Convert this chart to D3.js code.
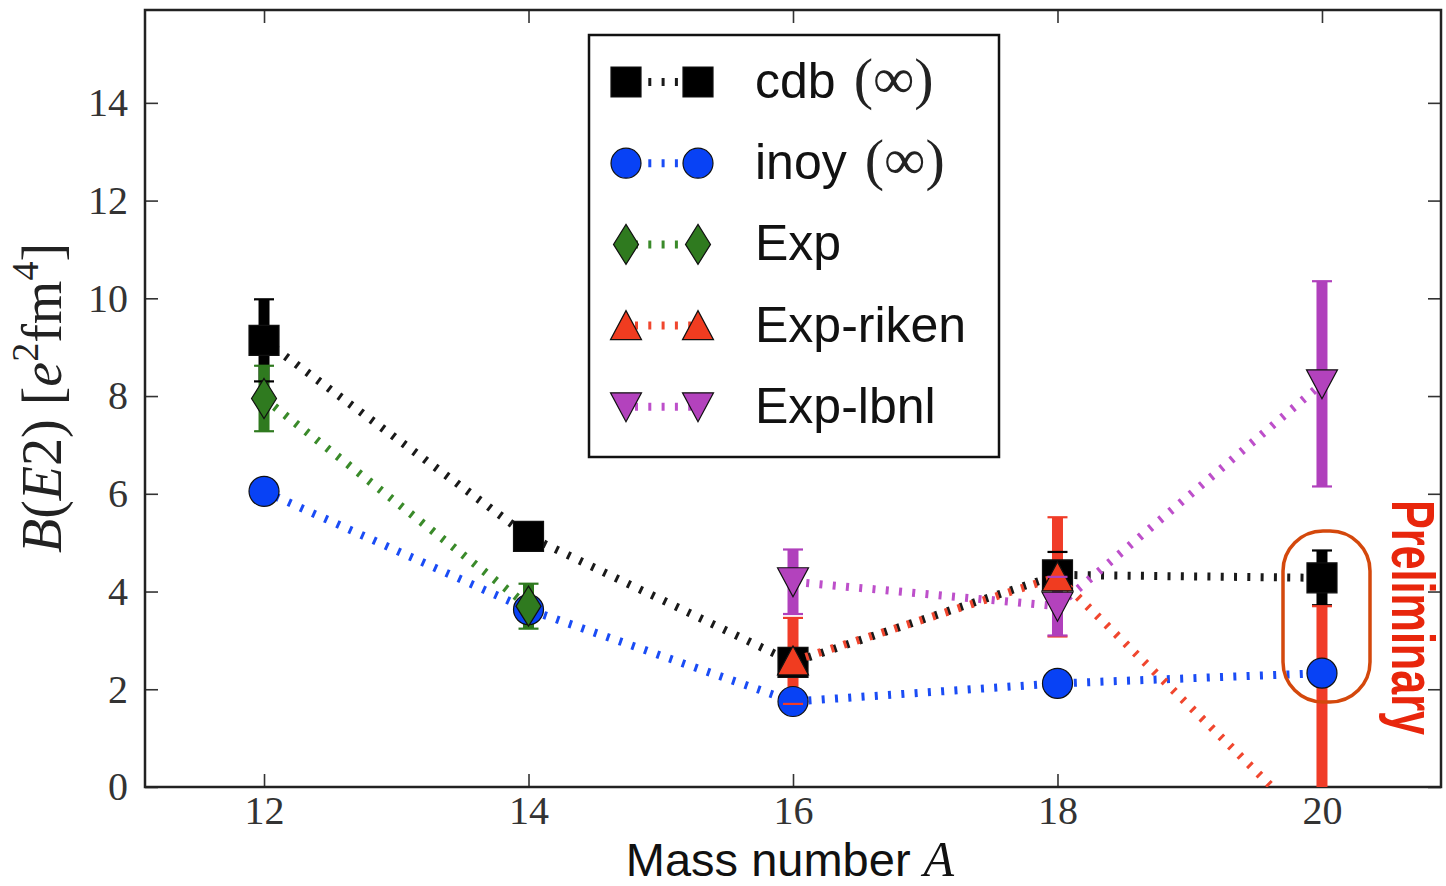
<!DOCTYPE html>
<html>
<head>
<meta charset="utf-8">
<script src="https://d3js.org/d3.v7.min.js"></script>
<style>
  body { margin: 0; background: #fff; }
</style>
</head>
<body>
<div class="canvas"></div>
<script>
const width = 1446
const height = 886

const massNumbers = [12, 14, 16, 18, 20]
const xTicks = [12, 14, 16, 18, 20]
const yTicks = [0, 2, 4, 6, 8, 10, 12, 14]

const cdbValues = [9.14, 5.13, 2.55, 4.34, 4.28]
const cdbErrors = [0.84, 0, 0, 0.47, 0.56]
const inoyValues = [6.05, 3.63, 1.75, 2.12, 2.33]
const expMass = [12, 14]
const expValues = [7.95, 3.7]
const expErrors = [0.67, 0.46]
const rikenMass = [16, 18, 20]
const rikenValues = [2.58, 4.3, -1.0]
const rikenErrors = [0.88, 1.22, 4.7]
const lbnlMass = [16, 18, 20]
const lbnlValues = [4.2, 3.7, 8.25]
const lbnlErrors = [0.66, 0.6, 2.1]

const legendLabels = ["cdb", "inoy", "Exp", "Exp-riken", "Exp-lbnl"]
const legendSuffix = ["(∞)", "(∞)", "", "", ""]

const zip = (xs, vs, es) => xs.map((x, i) => ({ x: x, v: vs[i], e: es ? es[i] : 0 }))

const series = [
    { name: legendLabels[0], pts: zip(massNumbers, cdbValues, cdbErrors), shape: "square", fill: "#000", line: "#1a1a1a", bar: "#000" },
    { name: legendLabels[1], pts: zip(massNumbers, inoyValues), shape: "circle", fill: "#0842f5", line: "#1a4cf5", bar: "#0842f5" },
    { name: legendLabels[2], pts: zip(expMass, expValues, expErrors), shape: "diamond", fill: "#2f7a1f", line: "#3a8a2a", bar: "#2f7a1f" },
    { name: legendLabels[3], pts: zip(rikenMass, rikenValues, rikenErrors), shape: "up", fill: "#f03c20", line: "#f0462e", bar: "#f03c28" },
    { name: legendLabels[4], pts: zip(lbnlMass, lbnlValues, lbnlErrors), shape: "down", fill: "#b342bd", line: "#bd4fca", bar: "#b040bc" }
]

const plotLeft = 145, plotRight = 1441, plotTop = 10, plotBottom = 787

const x = d3.scaleLinear().domain([11.1, 20.9]).range([plotLeft, plotRight])
const y = d3.scaleLinear().domain([0, 15.9]).range([plotBottom, plotTop])

function markerPath(shape) {
    switch (shape) {
        case "square": return "M-15,-15H15V15H-15Z"
        case "circle": return "M15,0A15,15 0 1,1 -15,0A15,15 0 1,1 15,0Z"
        case "diamond": return "M0,-20L12.5,0L0,20L-12.5,0Z"
        case "up": return "M0,-15L15.5,14L-15.5,14Z"
        case "down": return "M0,15L15.5,-14L-15.5,-14Z"
    }
}

const svg = d3.select(".canvas")
    .append("svg")
    .attr("width", width)
    .attr("height", height)
    .style("font-family", "'Liberation Sans', Arial, sans-serif")

svg.append("defs").append("clipPath").attr("id", "plot-clip")
    .append("rect")
    .attr("x", plotLeft).attr("y", plotTop)
    .attr("width", plotRight - plotLeft).attr("height", plotBottom - plotTop)

// axes, ticks point inward on all four sides
const tickStyle = g => {
    g.select(".domain").remove()
    g.selectAll(".tick line").attr("stroke", "#333").attr("stroke-width", 1.6)
    g.selectAll(".tick text")
        .attr("fill", "#333")
        .style("font-family", "'Liberation Serif', 'Times New Roman', serif")
        .style("font-size", "40px")
}

svg.append("g")
    .attr("transform", `translate(0,${plotBottom})`)
    .call(d3.axisBottom(x).tickValues(xTicks).tickSizeInner(-13).tickSizeOuter(0).tickPadding(9))
    .call(tickStyle)

svg.append("g")
    .attr("transform", `translate(0,${plotTop})`)
    .call(d3.axisTop(x).tickValues(xTicks).tickSizeInner(-13).tickSizeOuter(0).tickFormat(""))
    .call(tickStyle)

svg.append("g")
    .attr("transform", `translate(${plotLeft},0)`)
    .call(d3.axisLeft(y).tickValues(yTicks).tickSizeInner(-13).tickSizeOuter(0).tickPadding(17))
    .call(tickStyle)

svg.append("g")
    .attr("transform", `translate(${plotRight},0)`)
    .call(d3.axisRight(y).tickValues(yTicks).tickSizeInner(-13).tickSizeOuter(0).tickFormat(""))
    .call(tickStyle)

svg.append("rect")
    .attr("x", plotLeft).attr("y", plotTop)
    .attr("width", plotRight - plotLeft).attr("height", plotBottom - plotTop)
    .attr("fill", "none")
    .attr("stroke", "#222")
    .attr("stroke-width", 2.5)

const plot = svg.append("g").attr("clip-path", "url(#plot-clip)")

// error bars go under every line and marker
const bars = plot.append("g")
series.forEach(s => {
    bars.selectAll(null)
        .data(s.pts.filter(p => p.e > 0))
        .enter()
        .append("line")
        .attr("x1", p => x(p.x)).attr("x2", p => x(p.x))
        .attr("y1", p => y(p.v - p.e)).attr("y2", p => y(p.v + p.e))
        .attr("stroke", s.bar)
        .attr("stroke-width", 11)
})

const line = d3.line().x(p => x(p.x)).y(p => y(p.v))

series.forEach(s => {
    const g = plot.append("g")
    g.append("path")
        .attr("d", line(s.pts))
        .attr("fill", "none")
        .attr("stroke", s.line)
        .attr("stroke-width", 8)
        .attr("stroke-dasharray", "3,10.3")

    g.selectAll(null)
        .data(s.pts)
        .enter()
        .append("path")
        .attr("d", markerPath(s.shape))
        .attr("transform", p => `translate(${x(p.x)},${y(p.v)})`)
        .attr("fill", s.fill)
        .attr("stroke", "#111")
        .attr("stroke-width", 1.2)

    const caps = s.pts.filter(p => p.e > 0).flatMap(p => [{ x: p.x, v: p.v - p.e }, { x: p.x, v: p.v + p.e }])
    g.selectAll(null)
        .data(caps)
        .enter()
        .append("line")
        .attr("x1", p => x(p.x) - 10).attr("x2", p => x(p.x) + 10)
        .attr("y1", p => y(p.v)).attr("y2", p => y(p.v))
        .attr("stroke", s.bar)
        .attr("stroke-width", 2.2)
})

// legend
const legend = svg.append("g")
legend.append("rect")
    .attr("x", 589).attr("y", 35)
    .attr("width", 410).attr("height", 422)
    .attr("fill", "#fff")
    .attr("stroke", "#111")
    .attr("stroke-width", 2.5)

series.forEach((s, i) => {
    const cy = 82 + i * 81.2
    const row = legend.append("g").attr("transform", `translate(0,${cy})`)
    row.append("line")
        .attr("x1", 626).attr("x2", 698)
        .attr("stroke", s.line)
        .attr("stroke-width", 8)
        .attr("stroke-dasharray", "3,10.3")
        .attr("stroke-dashoffset", -9)
    ;[626, 698].forEach(mx => {
        row.append("path")
            .attr("d", markerPath(s.shape))
            .attr("transform", `translate(${mx},0)`)
            .attr("fill", s.fill)
            .attr("stroke", "#111")
            .attr("stroke-width", 1.2)
    })
    const t = row.append("text")
        .attr("x", 755).attr("y", 16)
        .attr("fill", "#111")
        .style("font-size", "50px")
    t.append("tspan").text(s.name)
    if (legendSuffix[i]) {
        t.append("tspan")
            .attr("dx", 18)
            .style("font-family", "'Liberation Serif', serif")
            .style("font-size", "58px")
            .attr("fill", "#222")
            .text(legendSuffix[i])
    }
})

// axis titles
const xt = svg.append("text")
    .attr("x", 790).attr("y", 876)
    .attr("text-anchor", "middle")
    .attr("fill", "#111")
    .style("font-size", "47px")
xt.append("tspan").text("Mass number ")
xt.append("tspan")
    .style("font-family", "'Liberation Serif', serif")
    .style("font-style", "italic")
    .style("font-size", "50px")
    .text("A")

const serif = "'Liberation Serif', serif"
const yt = svg.append("text")
    .attr("transform", "translate(61,398) rotate(-90)")
    .attr("text-anchor", "middle")
    .attr("fill", "#222")
    .style("font-family", serif)
    .style("font-size", "56px")
yt.append("tspan").style("font-style", "italic").text("B")
yt.append("tspan").text("(")
yt.append("tspan").style("font-style", "italic").text("E")
yt.append("tspan").text("2) [")
yt.append("tspan").style("font-style", "italic").text("e")
yt.append("tspan").attr("dy", -23).style("font-size", "38px").text("2")
yt.append("tspan").attr("dy", 23).text("fm")
yt.append("tspan").attr("dy", -23).style("font-size", "38px").text("4")
yt.append("tspan").attr("dy", 23).text("]")

// preliminary annotation
svg.append("rect")
    .attr("x", 1283).attr("y", 531)
    .attr("width", 87).attr("height", 171)
    .attr("rx", 40).attr("ry", 40)
    .attr("fill", "none")
    .attr("stroke", "#d4480c")
    .attr("stroke-width", 3.5)

svg.append("text")
    .attr("transform", "translate(1392,500) rotate(90)")
    .attr("fill", "#e8260c")
    .attr("textLength", 235)
    .attr("lengthAdjust", "spacingAndGlyphs")
    .style("font-family", "'Liberation Sans Narrow', 'Liberation Sans', sans-serif")
    .style("font-size", "61px")
    .style("font-weight", "600")
    .text("Preliminary")
</script>
</body>
</html>
